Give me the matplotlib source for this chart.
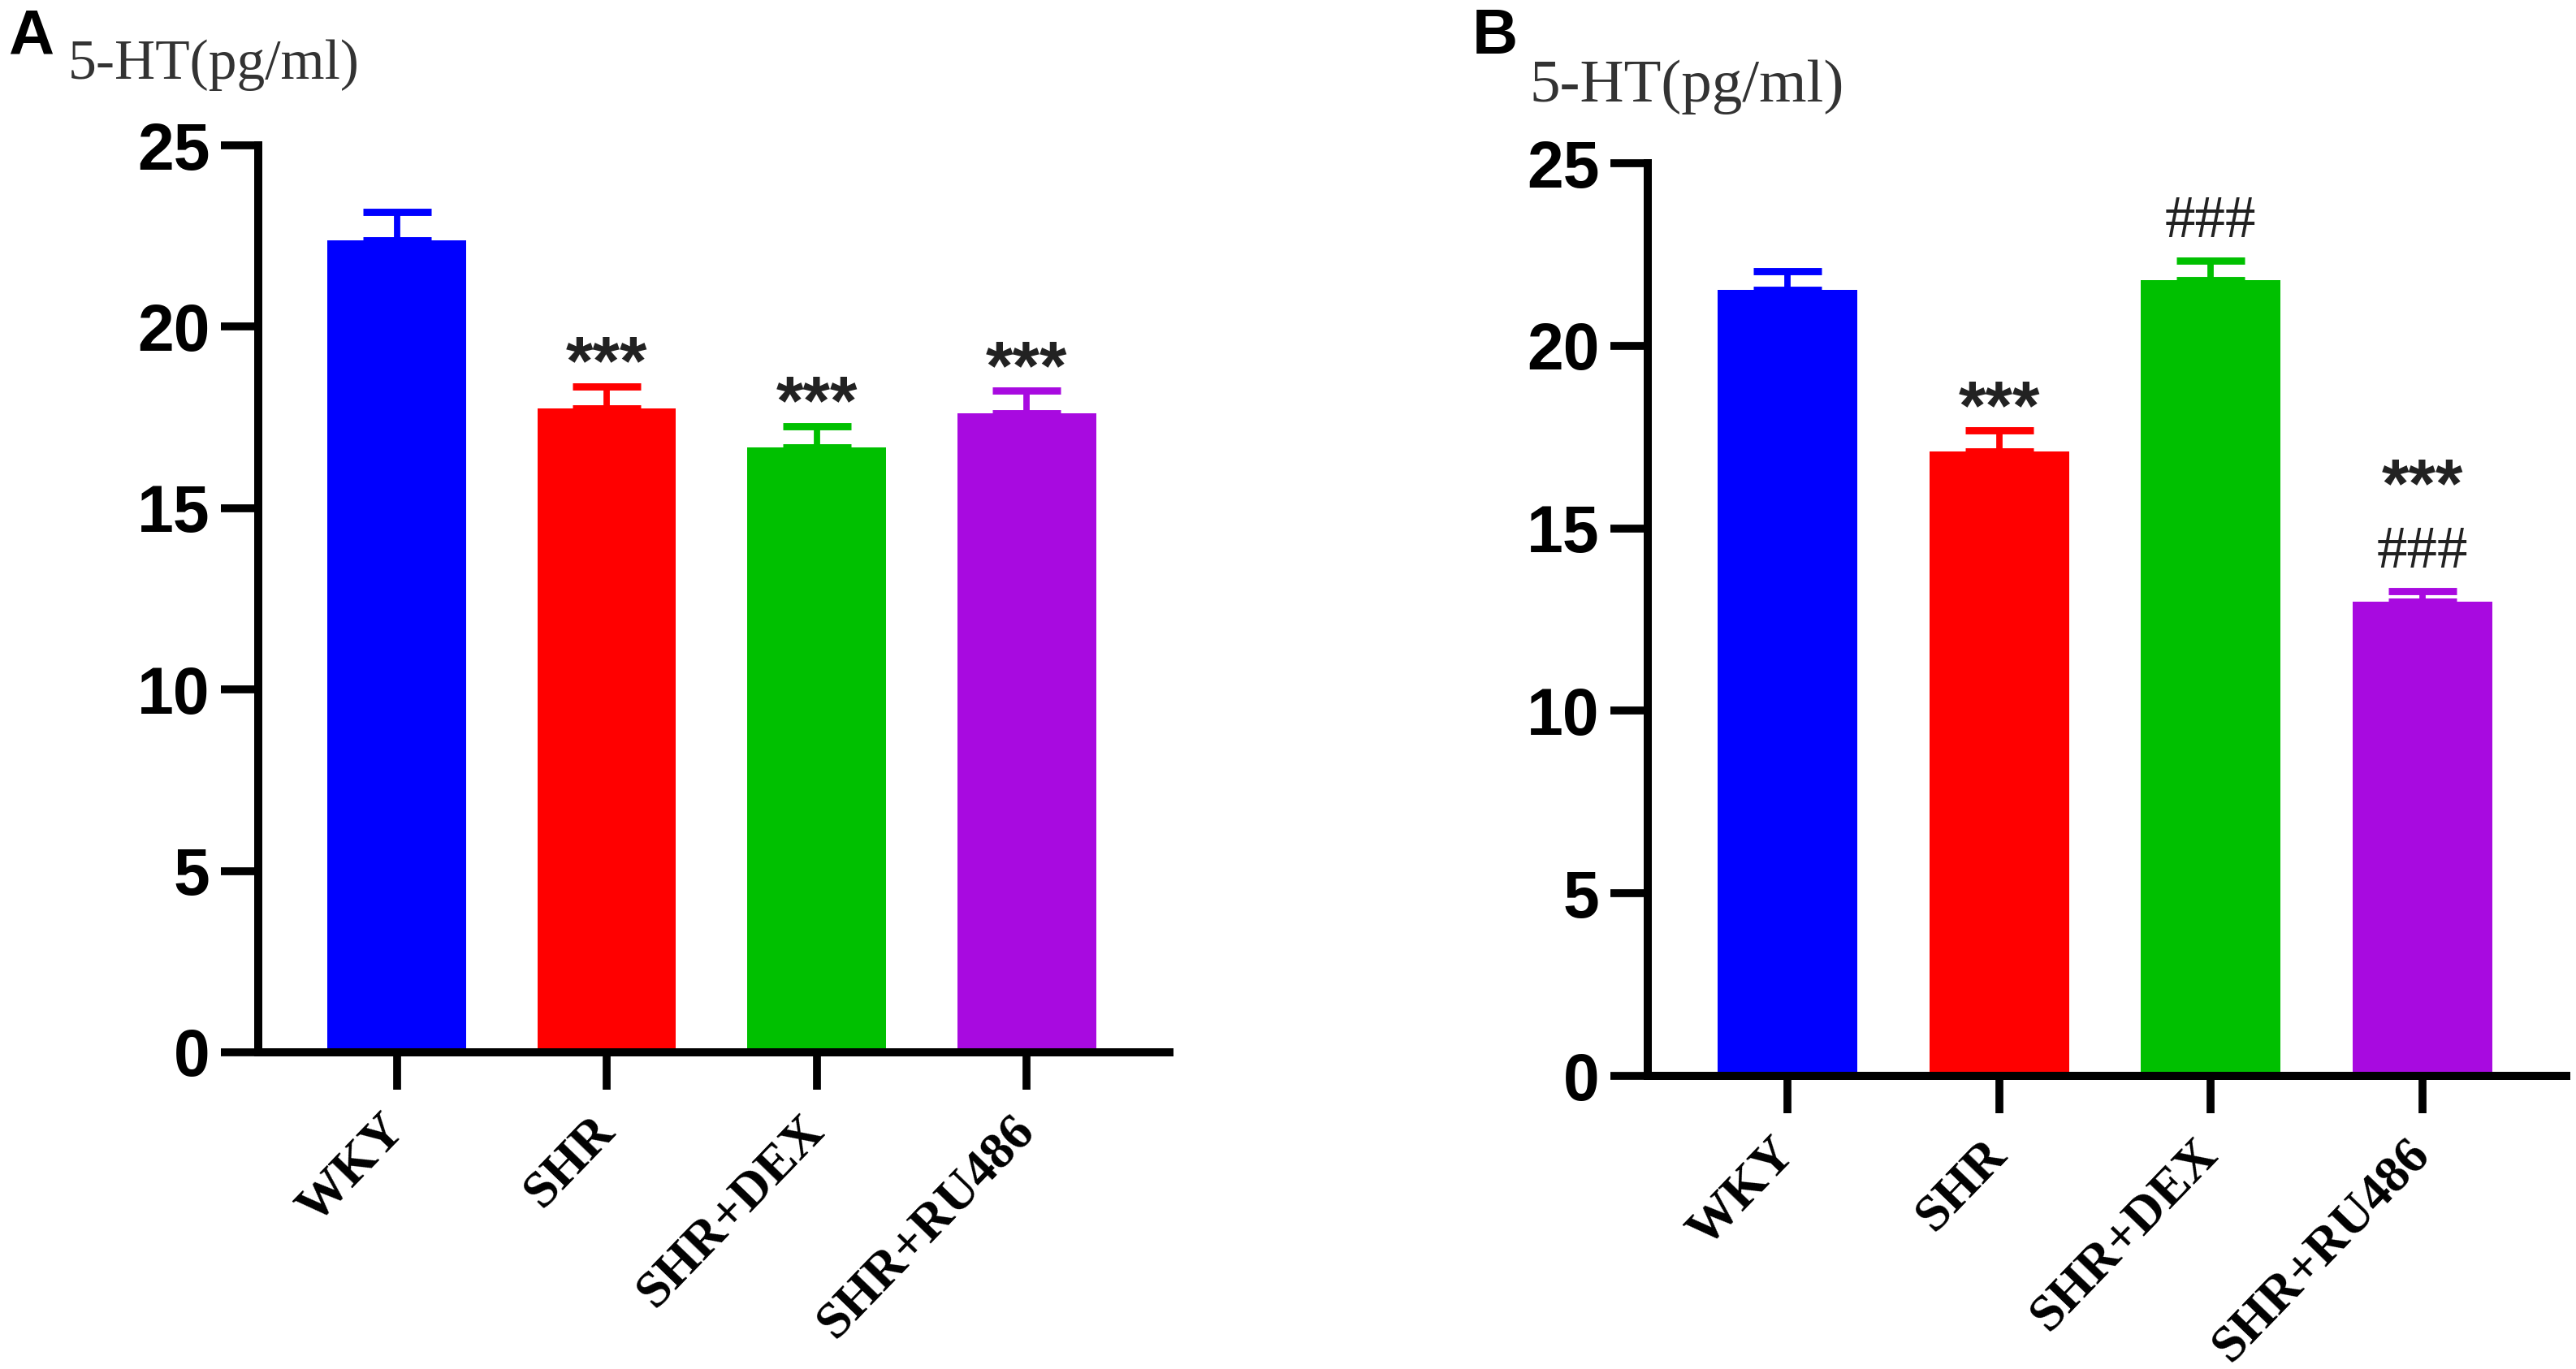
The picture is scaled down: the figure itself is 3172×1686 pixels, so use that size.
import matplotlib
matplotlib.use('Agg')
import matplotlib.pyplot as plt

# group names and bar colours
groups = ['WKY', 'SHR', 'SHR+DEX', 'SHR+RU486']
colors = ['#0000FF', '#FF0000', '#00C000', '#A80AE0']

# panel A: mean and SEM (upper bar only)
a_means = [22.38, 17.74, 16.68, 17.62]
a_errs = [0.78, 0.62, 0.58, 0.61]
a_marks = [[], ['***'], ['***'], ['***']]

# panel B
b_means = [21.53, 17.10, 21.80, 12.99]
b_errs = [0.51, 0.58, 0.53, 0.29]
b_marks = [[], ['***'], ['###'], ['###', '***']]

y_ticks = [0, 5, 10, 15, 20, 25]

W, H = 3172, 1686
fig = plt.figure(figsize=(W / 200, H / 200), dpi=200)


def draw_panel(rect, means, errs, marks):
    ax = fig.add_axes(rect)
    x = list(range(len(groups)))
    ax.bar(x, means, width=0.66, color=colors, zorder=2)
    for xi, m, e, c in zip(x, means, errs, colors):
        ax.errorbar(xi, m, yerr=[[0], [e]], fmt='none', ecolor=c,
                    elinewidth=2.8, capsize=15, capthick=3.2, zorder=3)
        level = m + e
        for s in marks[xi]:
            if s == '###':
                y = level + 0.65
                ax.text(xi, y, s, ha='center', va='baseline', fontsize=27,
                        family='Liberation Serif', color='#222222')
            else:
                y = level + 0.05
                ax.text(xi, y, s, ha='center', va='baseline', fontsize=31,
                        family='Liberation Sans', fontweight='bold',
                        color='#222222')
            level = y + 1.6
    ax.set_xlim(-0.66, 3.68)
    ax.set_ylim(0, 25)
    ax.set_yticks(y_ticks)
    ax.set_xticks(x)
    ax.set_xticklabels(groups, rotation=46, ha='right', va='center',
                       rotation_mode='anchor', fontsize=23,
                       family='Liberation Serif', fontweight='bold')
    for lab in ax.get_yticklabels():
        lab.set_fontsize(29)
        lab.set_family('Liberation Sans')
        lab.set_fontweight('bold')
    ax.tick_params(axis='both', width=3.5, length=16.5, color='black')
    ax.tick_params(axis='y', pad=5)
    ax.tick_params(axis='x', pad=15)
    for side in ['top', 'right']:
        ax.spines[side].set_visible(False)
    for side in ['left', 'bottom']:
        ax.spines[side].set_linewidth(3.6)
        ax.spines[side].set_zorder(4)
    return ax


draw_panel([318 / W, 1 - 1296 / H, 1122 / W, 1117 / H], a_means, a_errs, a_marks)
draw_panel([2029 / W, 1 - 1325 / H, 1131 / W, 1124 / H], b_means, b_errs, b_marks)

fig.text(10 / W, 1 - 67 / H, 'A', fontsize=28, fontweight='bold',
         family='Liberation Sans', va='baseline')
fig.text(84 / W, 1 - 97 / H, '5-HT(pg/ml)', fontsize=25,
         family='Liberation Serif', color='#333333', va='baseline')
fig.text(1813 / W, 1 - 66 / H, 'B', fontsize=28, fontweight='bold',
         family='Liberation Sans', va='baseline')
fig.text(1883 / W, 1 - 125 / H, '5-HT(pg/ml)', fontsize=27,
         family='Liberation Serif', color='#333333', va='baseline')

fig.savefig('out.png', dpi=200)
